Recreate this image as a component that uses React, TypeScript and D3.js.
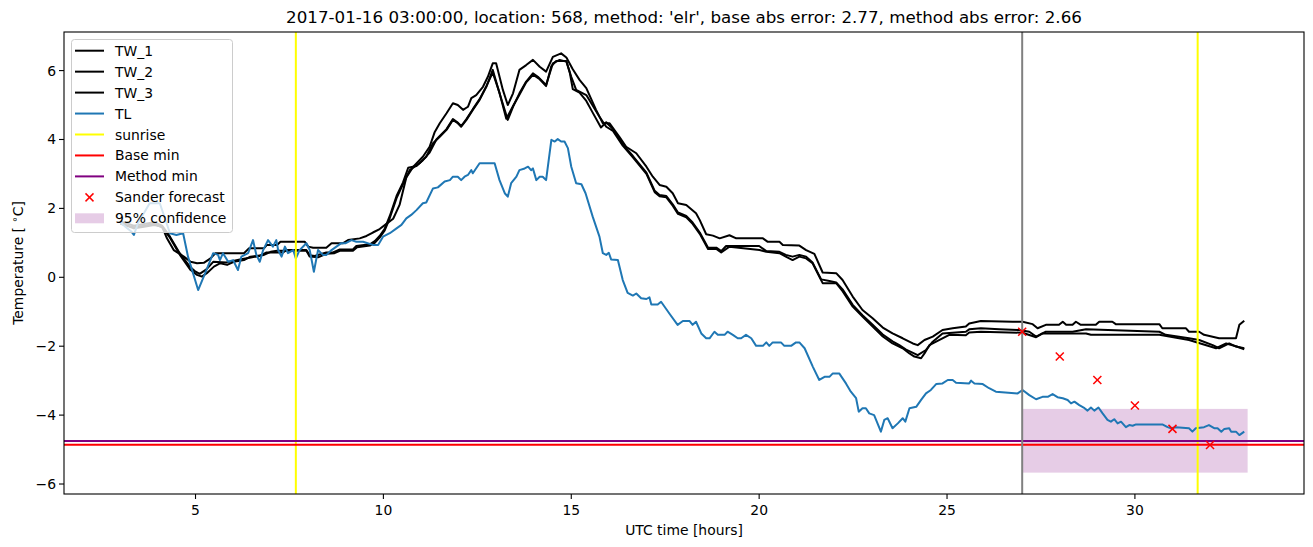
import React from "react";
import * as d3 from "d3";

const tw1Times = [3.0,3.36,3.63,3.9,4.11,4.24,4.42,4.69,4.87,5.04,5.22,5.4,5.53,6.29,6.42,6.82,6.9,7.17,7.26,7.44,7.91,8.0,8.13,8.48,8.62,8.93,9.06,9.37,9.55,9.72,9.9,10.08,10.26,10.43,10.61,10.79,11.05,11.23,11.36,11.5,11.68,11.85,11.98,12.12,12.25,12.34,12.47,12.65,12.78,12.91,13.0,13.18,13.31,13.45,13.62,13.8,13.98,14.16,14.33,14.51,14.73,14.87,15.04,15.22,15.4,15.66,15.84,16.02,16.28,16.46,16.73,17.0,17.17,17.35,17.53,17.7,17.84,18.06,18.32,18.42,18.59,18.77,18.95,19.21,19.39,20.1,20.23,20.54,20.63,21.07,21.25,21.47,21.69,22.05,22.22,22.49,22.75,23.02,23.29,23.55,23.82,24.09,24.22,24.4,24.62,24.88,25.15,25.5,25.59,25.9,26.75,27.01,27.28,27.41,27.63,27.98,28.08,28.17,28.34,28.43,28.56,28.96,29.05,29.4,29.49,30.65,30.73,31.36,31.44,31.71,31.84,32.24,32.69,32.78,32.91];
const tw1Values = [1.57,1.42,1.47,1.52,1.47,1.13,0.79,0.6,0.45,0.41,0.42,0.55,0.7,0.7,0.84,0.84,0.94,0.94,1.03,1.03,1.03,0.89,0.86,0.86,0.99,0.99,1.08,1.13,1.2,1.3,1.4,1.55,1.7,2.1,2.9,3.2,3.5,3.79,4.2,4.47,4.76,5.05,5.0,4.86,4.95,5.2,5.29,5.53,5.82,6.21,6.21,5.44,5.0,5.34,6.02,6.16,6.31,6.11,5.97,6.4,6.5,6.38,6.04,5.73,5.49,4.86,4.47,4.47,4.08,3.79,3.6,3.21,2.92,2.68,2.63,2.44,2.15,2.1,1.86,1.66,1.25,1.21,1.13,1.22,1.13,1.13,1.03,1.03,0.94,0.92,0.79,0.68,0.14,0.12,-0.08,-0.56,-0.95,-1.19,-1.46,-1.63,-1.77,-1.92,-1.97,-1.82,-1.72,-1.53,-1.48,-1.43,-1.34,-1.27,-1.29,-1.29,-1.36,-1.48,-1.38,-1.38,-1.29,-1.38,-1.38,-1.29,-1.38,-1.38,-1.29,-1.29,-1.36,-1.36,-1.48,-1.48,-1.58,-1.58,-1.67,-1.77,-1.77,-1.38,-1.26];

const tw2Times = [3.0,3.36,3.63,3.9,4.11,4.32,4.58,4.85,4.98,5.11,5.29,5.47,5.82,6.18,6.44,6.71,6.89,7.33,7.42,7.95,8.04,8.17,8.48,8.66,8.84,9.19,9.28,9.64,9.77,9.9,10.03,10.17,10.35,10.52,10.66,10.88,11.05,11.23,11.41,11.5,11.68,11.85,11.98,12.07,12.21,12.38,12.56,12.74,12.91,13.09,13.27,13.45,13.62,13.8,13.98,14.16,14.33,14.47,14.6,14.87,14.96,15.04,15.22,15.4,15.57,15.79,15.93,16.11,16.37,16.64,16.82,17.0,17.22,17.35,17.53,17.7,17.84,18.06,18.23,18.42,18.64,18.86,18.99,19.12,20.0,20.19,20.54,20.71,20.89,21.07,21.25,21.42,21.65,21.87,22.05,22.22,22.49,22.75,23.02,23.29,23.55,23.73,23.91,24.22,24.44,24.62,24.88,25.5,25.59,25.9,26.39,26.92,27.19,27.37,27.63,28.34,28.7,30.65,30.82,31.44,31.71,32.07,32.24,32.51,32.69,32.91];
const tw2Values = [1.62,1.5,1.55,1.6,1.5,1.18,0.7,0.31,0.18,0.1,0.23,0.45,0.43,0.52,0.57,0.62,0.72,0.72,0.79,0.79,0.64,0.62,0.72,0.72,0.81,0.81,0.91,0.96,1.05,1.2,1.4,1.78,2.36,2.75,3.18,3.23,3.4,3.62,4.0,4.1,4.3,4.59,4.49,4.39,4.59,4.88,5.17,5.55,5.94,5.36,4.6,4.97,5.3,5.66,5.88,5.75,5.55,6.13,6.28,6.28,5.94,5.46,5.36,5.12,4.78,4.35,4.5,4.3,3.86,3.52,3.28,3.04,2.51,2.39,2.36,2.12,1.88,1.78,1.59,1.3,0.86,0.86,0.76,0.91,0.91,0.76,0.74,0.65,0.6,0.65,0.6,0.43,-0.06,-0.11,-0.15,-0.35,-0.8,-1.1,-1.38,-1.66,-1.86,-1.97,-2.1,-2.26,-2.11,-1.87,-1.63,-1.58,-1.51,-1.48,-1.51,-1.53,-1.58,-1.72,-1.58,-1.58,-1.51,-1.58,-1.67,-1.77,-1.82,-1.97,-2.06,-1.92,-2.01,-2.06];

const tw3Times = [3.0,3.36,3.63,3.9,4.11,4.32,4.58,4.87,5.04,5.17,5.3,5.49,5.66,5.84,6.02,6.29,6.46,6.82,7.0,7.17,7.95,8.04,8.26,8.48,8.7,8.84,9.19,9.3,9.64,9.77,9.9,10.03,10.17,10.35,10.52,10.7,10.96,11.14,11.32,11.5,11.68,11.85,11.98,12.07,12.21,12.38,12.56,12.74,12.91,13.09,13.31,13.45,13.62,13.8,13.98,14.11,14.33,14.51,14.69,14.87,15.0,15.13,15.4,15.75,15.93,16.11,16.37,16.64,16.82,17.0,17.22,17.35,17.53,17.7,17.84,18.06,18.23,18.42,18.64,18.86,18.99,19.21,20.01,20.19,20.54,20.71,20.89,21.07,21.25,21.42,21.6,21.69,22.05,22.22,22.49,22.75,23.02,23.29,23.55,23.82,24.0,24.13,24.31,24.4,24.53,24.71,25.06,25.5,25.59,25.9,27.01,27.37,27.54,28.7,28.83,30.65,31.44,32.16,32.43,32.69,32.91];
const tw3Values = [1.55,1.45,1.5,1.55,1.45,1.15,0.66,0.21,0.07,0.02,0.12,0.31,0.41,0.36,0.45,0.5,0.6,0.65,0.74,0.77,0.77,0.6,0.58,0.68,0.7,0.77,0.77,0.87,0.92,1.0,1.15,1.35,1.72,2.3,2.7,3.11,3.31,3.5,3.89,4.08,4.28,4.57,4.47,4.37,4.57,4.86,5.15,5.53,6.02,5.34,4.57,4.95,5.34,5.68,5.92,5.82,5.58,6.21,6.31,6.26,5.82,5.44,5.29,4.66,4.37,4.25,3.82,3.48,3.24,3.0,2.47,2.35,2.32,2.08,1.84,1.74,1.55,1.26,0.82,0.82,0.72,0.89,0.79,0.74,0.7,0.6,0.5,0.6,0.55,0.41,0.02,-0.17,-0.17,-0.4,-0.85,-1.14,-1.43,-1.72,-1.92,-2.06,-2.21,-2.3,-2.35,-2.21,-1.97,-1.87,-1.67,-1.68,-1.6,-1.58,-1.61,-1.74,-1.63,-1.63,-1.67,-1.67,-1.82,-2.06,-1.92,-2.0,-2.09];

const tlTimes = [3.0,3.15,3.3,3.36,3.47,3.78,4.05,4.14,4.32,4.49,4.67,4.8,5.07,5.29,5.47,5.6,5.65,5.73,5.87,6.0,6.13,6.22,6.4,6.53,6.62,6.71,6.8,6.93,7.06,7.15,7.2,7.29,7.38,7.46,7.6,7.67,7.77,7.95,8.04,8.15,8.26,8.39,8.48,8.62,8.75,8.88,9.0,9.15,9.28,9.46,9.72,9.86,9.99,10.17,10.35,10.48,10.61,10.74,10.88,11.05,11.14,11.32,11.45,11.63,11.77,11.85,11.98,12.07,12.16,12.25,12.34,12.38,12.56,12.96,13.09,13.23,13.31,13.4,13.54,13.62,13.76,13.85,13.93,13.98,14.07,14.16,14.24,14.33,14.47,14.56,14.64,14.73,14.82,14.91,15.0,15.13,15.27,15.38,15.57,15.75,15.84,15.93,16.0,16.06,16.24,16.37,16.5,16.64,16.73,16.86,17.0,17.08,17.13,17.3,17.39,17.61,17.83,17.97,18.15,18.23,18.32,18.46,18.59,18.68,18.81,18.9,19.08,19.16,19.3,19.43,19.52,19.65,19.79,19.92,20.1,20.19,20.27,20.36,20.58,20.67,20.85,20.98,21.07,21.21,21.43,21.6,21.74,21.87,21.96,22.13,22.31,22.44,22.58,22.65,22.75,22.84,22.93,23.06,23.24,23.33,23.42,23.55,23.69,23.82,23.89,24.0,24.18,24.31,24.44,24.57,24.71,24.88,25.02,25.15,25.24,25.59,25.64,25.73,25.95,26.12,26.3,26.88,27.01,27.19,27.37,27.54,27.68,27.81,27.94,28.08,28.21,28.3,28.39,28.52,28.66,28.74,28.83,28.92,29.03,29.14,29.27,29.36,29.45,29.54,29.63,29.76,29.85,29.94,30.03,30.73,30.87,30.96,31.09,31.44,31.53,31.62,31.84,31.97,32.11,32.2,32.3,32.38,32.51,32.56,32.69,32.78,32.91];
const tlValues = [1.6,1.45,1.32,1.23,1.57,2.15,2.15,1.86,1.28,1.23,1.28,0.6,-0.37,0.21,0.7,0.65,0.5,0.7,0.45,0.5,0.21,0.6,0.7,1.08,0.65,0.45,0.79,1.08,0.89,1.08,0.79,0.6,0.89,0.7,0.79,0.55,0.79,0.99,0.79,0.16,0.79,0.65,0.65,0.79,0.89,0.99,0.99,1.08,1.03,1.03,0.94,0.94,1.18,1.28,1.42,1.52,1.71,1.81,1.95,2.15,2.17,2.58,2.61,2.78,2.82,2.92,2.92,2.82,2.92,2.97,3.11,3.02,3.31,3.31,2.82,2.44,2.34,2.73,2.92,3.11,3.16,3.21,3.11,3.16,2.82,2.92,2.92,2.82,3.99,3.94,4.01,3.94,3.94,3.75,3.21,2.73,2.7,2.44,1.76,1.18,0.7,0.65,0.71,0.52,0.5,-0.08,-0.45,-0.53,-0.47,-0.61,-0.63,-0.58,-0.79,-0.79,-0.71,-1.05,-1.38,-1.27,-1.27,-1.38,-1.29,-1.63,-1.77,-1.77,-1.58,-1.67,-1.67,-1.58,-1.67,-1.77,-1.77,-1.67,-1.77,-1.99,-1.99,-1.89,-1.99,-1.89,-1.89,-1.99,-1.99,-1.89,-1.89,-2.06,-2.6,-2.98,-2.89,-2.89,-2.79,-2.79,-3.08,-3.32,-3.51,-3.9,-3.8,-3.8,-3.95,-4.0,-4.48,-4.14,-4.09,-4.38,-4.24,-4.09,-4.19,-3.8,-3.76,-3.56,-3.37,-3.27,-3.1,-3.08,-2.98,-2.98,-3.06,-3.08,-3.0,-3.08,-3.1,-3.22,-3.32,-3.37,-3.27,-3.42,-3.54,-3.47,-3.47,-3.39,-3.48,-3.51,-3.56,-3.66,-3.61,-3.71,-3.8,-3.87,-3.78,-3.87,-3.78,-3.95,-4.14,-4.19,-4.12,-4.24,-4.19,-4.35,-4.29,-4.31,-4.27,-4.27,-4.35,-4.38,-4.35,-4.38,-4.48,-4.38,-4.35,-4.29,-4.38,-4.38,-4.48,-4.4,-4.38,-4.48,-4.48,-4.58,-4.48];

const sunriseTimes = [7.67, 31.67];
const forecastTime = [27.0];
const baseMin = [-4.86];
const methodMin = [-4.75];
const sanderTimes = [27, 28, 29, 30, 31, 32];
const sanderValues = [-1.58, -2.3, -2.98, -3.72, -4.4, -4.87];
const confTimes = [27, 33];
const confRange = [-5.67, -3.82];
const xTicks = [5, 10, 15, 20, 25, 30];
const yTicks = [-6, -4, -2, 0, 2, 4, 6];
const legendLabels = ["TW_1", "TW_2", "TW_3", "TL", "sunrise", "Base min", "Method min", "Sander forecast", "95% confidence"];

const TITLE = "2017-01-16 03:00:00, location: 568, method: 'elr', base abs error: 2.77, method abs error: 2.66";

export default function App() {
  const W = 1313, H = 547;
  const L = 64, R = 1304, T = 32, B = 494;
  const x = d3.scaleLinear().domain([1.5, 34.5]).range([L, R]);
  const y = d3.scaleLinear().domain([-6.29, 7.12]).range([B, T]);
  const font = "DejaVu Sans, sans-serif";
  const fs = 13.9;
  const mk = (ts: number[], vs: number[]) =>
    d3.line<number>().x((_, i) => x(ts[i])).y((v) => y(v))(vs) || "";
  const series = [
    { t: tw1Times, v: tw1Values, c: "#000000" },
    { t: tw2Times, v: tw2Values, c: "#000000" },
    { t: tw3Times, v: tw3Values, c: "#000000" },
    { t: tlTimes, v: tlValues, c: "#1f77b4" },
  ];
  const fmt = (n: number) => (n < 0 ? "\u2212" + Math.abs(n) : String(n));
  const lw = 2;
  const legendColors = ["#000", "#000", "#000", "#1f77b4", "#ffff00", "#ff0000", "#800080"];
  const cross = (cx: number, cy: number, s: number, key: any) => (
    <g key={key} stroke="#ff0000" strokeWidth={1.5}>
      <line x1={cx - s} y1={cy - s} x2={cx + s} y2={cy + s} />
      <line x1={cx - s} y1={cy + s} x2={cx + s} y2={cy - s} />
    </g>
  );
  return (
    <div style={{ position: "absolute", left: 0, top: 0 }}>
      <svg width={W} height={H} style={{ display: "block", background: "#fff" }} fontFamily={font}>
        <defs>
          <clipPath id="plot">
            <rect x={L} y={T} width={R - L} height={B - T} />
          </clipPath>
        </defs>
        <g clipPath="url(#plot)">
          <rect x={x(confTimes[0])} y={y(confRange[1])} width={x(confTimes[1]) - x(confTimes[0])}
            height={y(confRange[0]) - y(confRange[1])} fill="#800080" fillOpacity={0.2} />
          {series.map((s, i) => (
            <path key={i} d={mk(s.t, s.v)} fill="none" stroke={s.c} strokeWidth={lw} strokeLinejoin="round" />
          ))}
          {sunriseTimes.map((t, i) => (
            <line key={i} x1={x(t)} x2={x(t)} y1={T} y2={B} stroke="#ffff00" strokeWidth={lw} />
          ))}
          <line x1={L} x2={R} y1={y(baseMin[0])} y2={y(baseMin[0])} stroke="#ff0000" strokeWidth={lw} />
          <line x1={L} x2={R} y1={y(methodMin[0])} y2={y(methodMin[0])} stroke="#800080" strokeWidth={lw} />
          <line x1={x(forecastTime[0])} x2={x(forecastTime[0])} y1={T} y2={B} stroke="#808080" strokeWidth={lw} />
          {sanderTimes.map((t, i) => cross(x(t), y(sanderValues[i]), 4, i))}
        </g>
        <rect x={L} y={T} width={R - L} height={B - T} fill="none" stroke="#000" strokeWidth={1.1} />
        {xTicks.map((t) => (
          <g key={t}>
            <line x1={x(t)} x2={x(t)} y1={B} y2={B + 5} stroke="#000" strokeWidth={1.1} />
            <text x={x(t)} y={B + 21} fontSize={fs} textAnchor="middle">{fmt(t)}</text>
          </g>
        ))}
        {yTicks.map((t) => (
          <g key={t}>
            <line x1={L - 5} x2={L} y1={y(t)} y2={y(t)} stroke="#000" strokeWidth={1.1} />
            <text x={L - 8} y={y(t) + 5} fontSize={fs} textAnchor="end">{fmt(t)}</text>
          </g>
        ))}
        <text x={(L + R) / 2} y={535} fontSize={fs} textAnchor="middle">UTC time [hours]</text>
        <text transform={`translate(23, ${(T + B) / 2}) rotate(-90)`} fontSize={fs} textAnchor="middle">
          Temperature [ <tspan fontSize={10} dy={-5}>{"\u2218"}</tspan><tspan dy={5}>C]</tspan>
        </text>
        <text x={(L + R) / 2} y={23} fontSize={16.7} textAnchor="middle">{TITLE}</text>
        <g>
          <rect x={71.5} y={39.5} width={161} height={193} rx={3} fill="#fff" fillOpacity={0.8} stroke="#cccccc" />
          {legendLabels.map((lab, i) => {
            const cy = 50.7 + i * 20.95;
            let handle;
            if (i < 7) handle = <line x1={75} x2={104} y1={cy} y2={cy} stroke={legendColors[i]} strokeWidth={lw} />;
            else if (i === 7) handle = cross(89.5, cy, 4, "lx");
            else handle = <rect x={75} y={cy - 5} width={29} height={10} fill="#800080" fillOpacity={0.2} />;
            return (
              <g key={lab}>
                {handle}
                <text x={115} y={cy + 5} fontSize={fs}>{lab}</text>
              </g>
            );
          })}
        </g>
      </svg>
    </div>
  );
}
